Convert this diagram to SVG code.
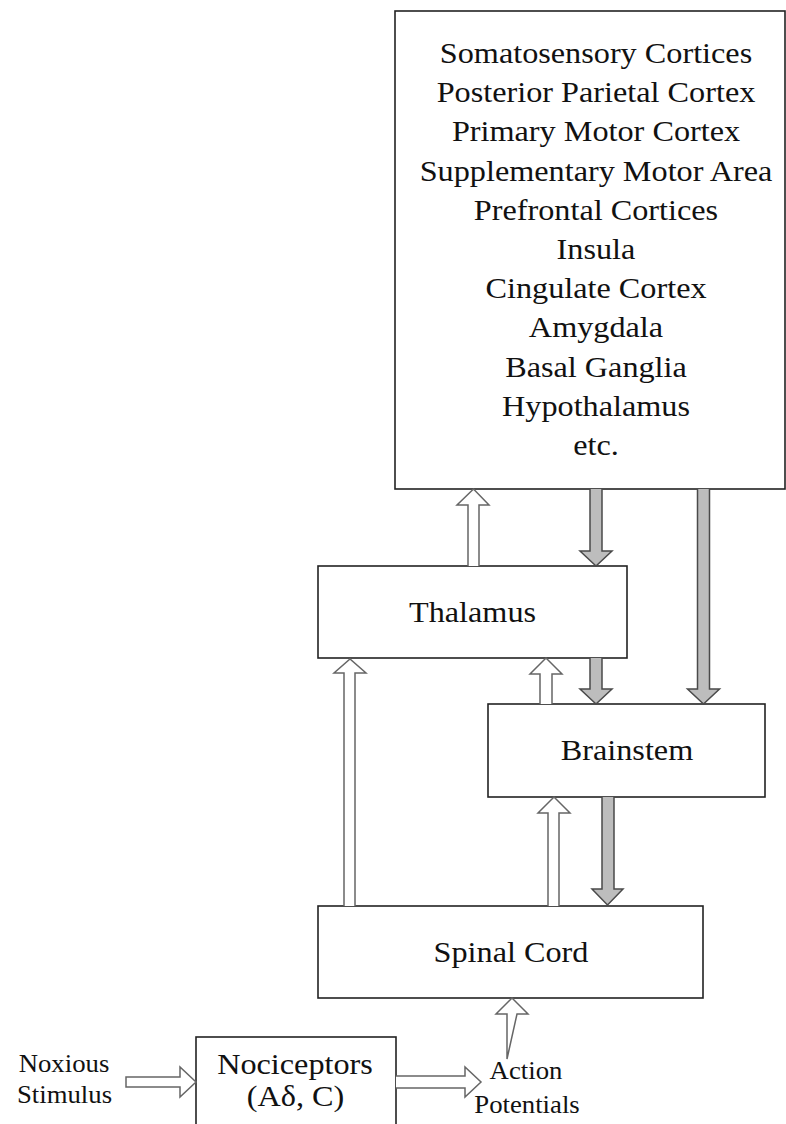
<svg xmlns="http://www.w3.org/2000/svg" width="786" height="1124" viewBox="0 0 786 1124">
<style>
  .box { fill: #ffffff; stroke: #222222; stroke-width: 1.6; }
  .lbl { font-family: "Liberation Serif", "Times New Roman", serif; font-size: 30px; fill: #111111; text-anchor: middle; }
  .sm { font-family: "Liberation Serif", "Times New Roman", serif; font-size: 25px; fill: #111111; text-anchor: middle; }
  .up { fill: #ffffff; stroke: #666666; stroke-width: 1.5; stroke-linejoin: miter; }
  .dn { fill: #bdbdbd; stroke: #4a4a4a; stroke-width: 1.5; stroke-linejoin: miter; }
</style>
<rect width="786" height="1124" fill="#ffffff"/>

<g id="cortex">
  <rect class="box" x="395" y="11" width="390" height="478"/>
  <text class="lbl" transform="translate(596 63) scale(1.075 1)">Somatosensory Cortices</text>
  <text class="lbl" transform="translate(596 102.2) scale(1.075 1)">Posterior Parietal Cortex</text>
  <text class="lbl" transform="translate(596 141.4) scale(1.075 1)">Primary Motor Cortex</text>
  <text class="lbl" transform="translate(596 180.6) scale(1.075 1)">Supplementary Motor Area</text>
  <text class="lbl" transform="translate(596 219.8) scale(1.075 1)">Prefrontal Cortices</text>
  <text class="lbl" transform="translate(596 259) scale(1.075 1)">Insula</text>
  <text class="lbl" transform="translate(596 298.2) scale(1.075 1)">Cingulate Cortex</text>
  <text class="lbl" transform="translate(596 337.4) scale(1.075 1)">Amygdala</text>
  <text class="lbl" transform="translate(596 376.6) scale(1.075 1)">Basal Ganglia</text>
  <text class="lbl" transform="translate(596 415.8) scale(1.075 1)">Hypothalamus</text>
  <text class="lbl" transform="translate(596 455) scale(1.075 1)">etc.</text>
</g>

<g id="thalamus">
  <rect class="box" x="318" y="566" width="309" height="92"/>
  <text class="lbl" transform="translate(472.5 622) scale(1.075 1)">Thalamus</text>
</g>

<g id="brainstem">
  <rect class="box" x="488" y="704" width="277" height="93"/>
  <text class="lbl" transform="translate(627 760) scale(1.075 1)">Brainstem</text>
</g>

<g id="spinal-cord">
  <rect class="box" x="318" y="906" width="385" height="92"/>
  <text class="lbl" transform="translate(511 962) scale(1.075 1)">Spinal Cord</text>
</g>

<g id="nociceptors">
  <rect class="box" x="196" y="1037" width="200" height="100"/>
  <text class="lbl" transform="translate(295 1074) scale(1.075 1)">Nociceptors</text>
  <text class="lbl" transform="translate(295.5 1106) scale(1.075 1)">(Aδ, C)</text>
</g>

<g id="noxious-stimulus">
  <text class="sm" transform="translate(64 1072) scale(1.07 1)">Noxious</text>
  <text class="sm" transform="translate(64.5 1103) scale(1.07 1)">Stimulus</text>
</g>

<g id="action-potentials">
  <text class="sm" transform="translate(526 1079) scale(1.07 1)">Action</text>
  <text class="sm" transform="translate(527 1113) scale(1.07 1)">Potentials</text>
</g>

<g id="connectors">
  <!-- ascending (white) arrows -->
  <path class="up" d="M468 566 V505 H457 L473.5 489 L489 505 H479 V566"/>
  <path class="up" d="M344 906 V673 H334 L350 659 L366 673 H355 V906"/>
  <path class="up" d="M540 704 V674 H530 L546 658 L562 674 H552 V704"/>
  <path class="up" d="M548 906 V813 H538 L554 797 L570 813 H559 V906"/>
  <path class="up" d="M507 1059 V1014 H496 L512 998 L528 1014 H517 Z"/>
  <path class="up" d="M126 1077 H180 V1067 L196 1082 L180 1097 V1087 H126 Z"/>
  <path class="up" d="M396 1076 H465 V1067 L481 1082 L465 1097 V1088 H396"/>
  <!-- descending (grey) arrows -->
  <path class="dn" d="M590 489 V551 H580 L596 566 L612 551 H602 V489"/>
  <path class="dn" d="M590 658 V689 H580 L596 704 L612 689 H602 V658"/>
  <path class="dn" d="M697.5 489 V689 H687.5 L703.5 704 L719.5 689 H709.5 V489"/>
  <path class="dn" d="M602 797 V889 H592 L607.5 905 L623 889 H614 V797"/>
</g>
</svg>
